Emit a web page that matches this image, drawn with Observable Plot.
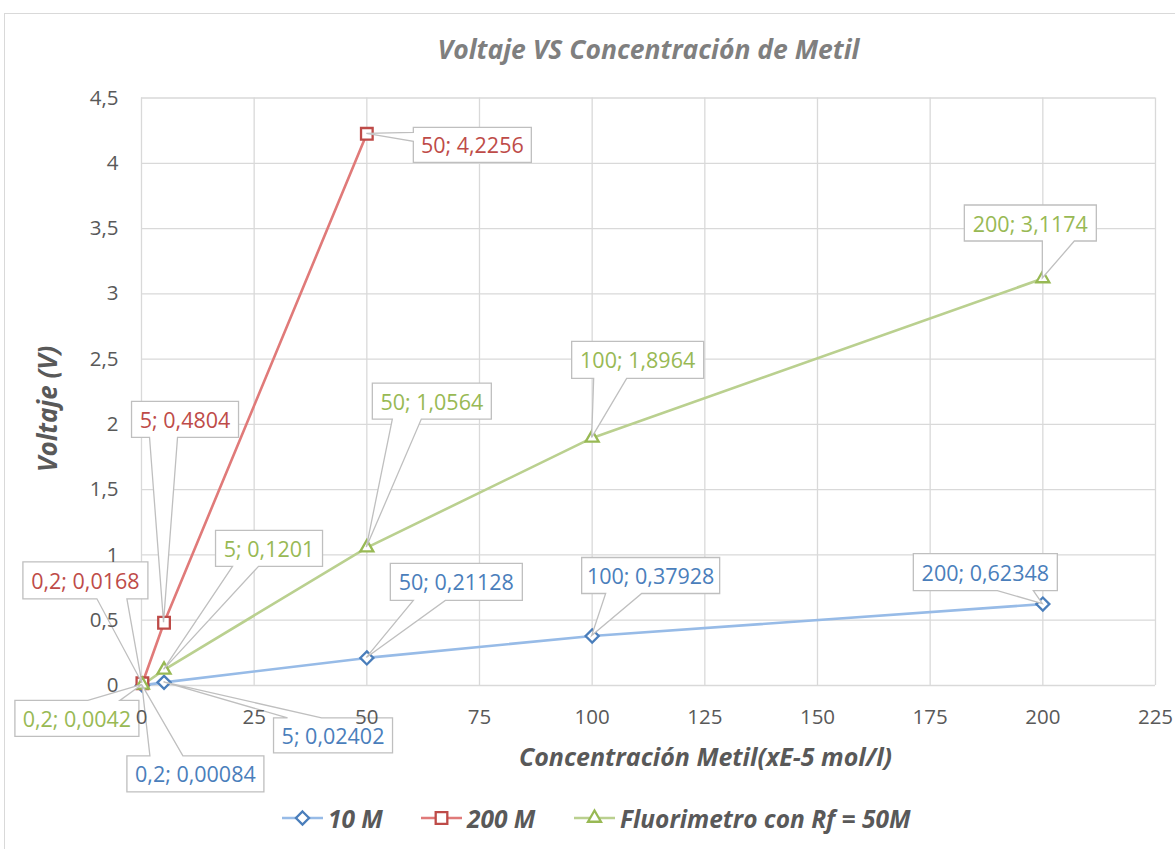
<!DOCTYPE html>
<html>
<head>
<meta charset="utf-8">
<script src="https://cdn.jsdelivr.net/npm/d3@7"></script>
<script src="https://cdn.jsdelivr.net/npm/@observablehq/plot@0.6"></script>
<style>
  body { margin: 0; background: #fff; }
  #wrap { position: relative; width: 1175px; height: 849px; overflow: hidden; background: #fff; }
  #frame { position: absolute; left: 4px; top: 13px; width: 1200px; height: 900px; border: 1px solid #d9d9d9; }
  #chart { position: absolute; left: 0; top: 0; }
  #legend { position: absolute; left: 0; top: 803px; width: 1175px; height: 30px;
            font-family: "Open Sans", Lato, sans-serif; font-weight: bold; font-style: italic;
            font-size: 24.5px; color: #595959; white-space: nowrap; }
  #legend .item { position: absolute; top: 0; display: flex; align-items: center; height: 30px; }
  #legend svg { display: block; margin-right: 5px; }
</style>
</head>
<body>
<div id="wrap">
  <div id="frame"></div>
  <div id="chart"></div>
  <div id="legend"></div>
</div>
<script>
// ---- data ----
const seriesNames = ["10 M", "200 M", "Fluorimetro con Rf = 50M"];
const conc10 = [0.2, 5, 50, 100, 200];
const volt10 = [0.00084, 0.02402, 0.21128, 0.37928, 0.62348];
const conc200 = [0.2, 5, 50];
const volt200 = [0.0168, 0.4804, 4.2256];
const concFl = [0.2, 5, 50, 100, 200];
const voltFl = [0.0042, 0.1201, 1.0564, 1.8964, 3.1174];
const xTicks = [0, 25, 50, 75, 100, 125, 150, 175, 200, 225];
const yTicks = [0, 0.5, 1, 1.5, 2, 2.5, 3, 3.5, 4, 4.5];
const titleText = "Voltaje VS Concentración de Metil";
const xLabel = "Concentración Metil(xE-5 mol/l)";
const yLabel = "Voltaje (V)";

// ---- styles ----
const lineColors = ["#97bbe7", "#e07a79", "#bad08f"];
const markColors = ["#4a7ebb", "#be4b48", "#98b954"];
const symbols = ["diamond2", "square2", "triangle2"];
const symbolR = [5.9, 7.4, 6.2];
const legendLeft = [282, 421, 574];

// callout layout (pixel offsets from the data point): box [x0,y0,x1,y1], wedge side, wedge base [a1,a2]
const calloutLayout = [
  // 10 M
  [{box:[-15,71,122,107], side:"t", w:[8,41]},
   {box:[110,36,229,71], side:"t", w:[124,158]},
   {box:[24,-94,156,-57], side:"b", w:[47,79]},
   {box:[-10,-78,128,-42], side:"b", w:[14,50]},
   {box:[-129,-50,15,-13], side:"b", w:[-45,-9]}],
  // 200 M
  [{box:[-119,-121,6,-84], side:"b", w:[-45,-15]},
   {box:[-32,-221,75,-185], side:"b", w:[-14,14]},
   {box:[47,-6,165,29], side:"l", w:[-1,8]}],
  // Fluorimetro
  [{box:[-127,16,-3,52], side:"t", w:[-54,-22]},
   {box:[52,-139,159,-103], side:"b", w:[69,95]},
   {box:[6,-164,125,-128], side:"b", w:[26,55]},
   {box:[-20,-96,112,-59], side:"b", w:[2,35]},
   {box:[-78,-73,54,-37], side:"b", w:[0,32]}]
];

const fmt = v => String(v).replace(".", ",");
const seriesData = [
  conc10.map((x, i) => ({s: 0, x, y: volt10[i], i})),
  conc200.map((x, i) => ({s: 1, x, y: volt200[i], i})),
  concFl.map((x, i) => ({s: 2, x, y: voltFl[i], i}))
];

function calloutMark(index, scales, values, dimensions, context) {
  const g = d3.create("svg:g");
  for (const data of seriesData) {
    for (const d of data) {
      const L = calloutLayout[d.s][d.i];
      const px = scales.x(d.x), py = scales.y(d.y);
      const [bx0, by0, bx1, by1] = L.box;
      const x0 = px + bx0, y0 = py + by0, x1 = px + bx1, y1 = py + by1;
      let p;
      if (L.side === "b") {
        const a1 = px + L.w[0], a2 = px + L.w[1];
        p = `M${x0},${y0}H${x1}V${y1}H${a2}L${px},${py}L${a1},${y1}H${x0}Z`;
      } else if (L.side === "t") {
        const a1 = px + L.w[0], a2 = px + L.w[1];
        p = `M${x0},${y0}H${a1}L${px},${py}L${a2},${y0}H${x1}V${y1}H${x0}Z`;
      } else {
        const a1 = py + L.w[0], a2 = py + L.w[1];
        p = `M${x0},${y0}H${x1}V${y1}H${x0}V${a2}L${px},${py}L${x0},${a1}Z`;
      }
      g.append("path").attr("d", p).attr("fill", "white").attr("stroke", "#bfbfbf").attr("stroke-width", 1.3);
      g.append("text")
        .attr("x", (x0 + x1) / 2).attr("y", (y0 + y1) / 2)
        .attr("text-anchor", "middle").attr("dominant-baseline", "central")
        .attr("font-size", 21.5).attr("font-family", "'Open Sans', Lato, sans-serif")
        .attr("fill", markColors[d.s])
        .text(`${fmt(d.x)}; ${fmt(d.y)}`);
    }
  }
  return g.node();
}

const marks = [
  Plot.gridX(xTicks, {stroke: "#d9d9d9", strokeOpacity: 1, strokeWidth: 1.3}),
  Plot.gridY(yTicks, {stroke: "#d9d9d9", strokeOpacity: 1, strokeWidth: 1.3}),
];
seriesData.forEach((data, s) => {
  marks.push(Plot.line(data, {x: "x", y: "y", stroke: lineColors[s], strokeWidth: 2.6}));
});
seriesData.forEach((data, s) => {
  marks.push(Plot.dot(data, {x: "x", y: "y", symbol: () => symbols[s], r: symbolR[s], stroke: markColors[s], fill: "white", strokeWidth: 2.3}));
});
marks.push(calloutMark);
marks.push(Plot.axisX(xTicks, {label: null, tickSize: 0, tickPadding: 24, fontSize: 20.5, fontFamily: "'Open Sans', Lato, sans-serif", fill: "#595959", tickFormat: fmt}));
marks.push(Plot.axisY(yTicks, {label: null, tickSize: 0, tickPadding: 23, fontSize: 20.5, fontFamily: "'Open Sans', Lato, sans-serif", fill: "#595959", tickFormat: fmt}));
const titleFont = "'Open Sans', Lato, sans-serif";
marks.push(Plot.text([titleText], {frameAnchor: "top", dy: -47, lineAnchor: "middle", textAnchor: "middle", fontSize: 26.5, fontFamily: titleFont, fontWeight: "bold", fontStyle: "italic", fill: "#7f7f7f"}));
marks.push(Plot.text([xLabel], {frameAnchor: "bottom", dy: 72, dx: 57, lineAnchor: "middle", textAnchor: "middle", fontSize: 25, fontFamily: titleFont, fontWeight: "bold", fontStyle: "italic", fill: "#595959"}));
marks.push(Plot.text([yLabel], {frameAnchor: "left", dx: -93, dy: 17, lineAnchor: "middle", textAnchor: "middle", rotate: -90, fontSize: 26, fontFamily: titleFont, fontWeight: "bold", fontStyle: "italic", fill: "#595959"}));

const chart = Plot.plot({
  width: 1175,
  height: 849,
  marginLeft: 141,
  marginRight: 20,
  marginTop: 97.5,
  marginBottom: 164,
  style: {fontFamily: "'Open Sans', Lato, sans-serif", background: "transparent", overflow: "visible"},
  x: {domain: [0, 225], type: "linear", label: null, axis: null},
  y: {domain: [0, 4.5], type: "linear", label: null, axis: null},
  marks
});
document.getElementById("chart").appendChild(chart);

// ---- legend ----
const legend = d3.select("#legend");
seriesNames.forEach((name, s) => {
  const item = legend.append("div").attr("class", "item").style("left", legendLeft[s] + "px");
  const svg = item.append("svg").attr("width", 41).attr("height", 24);
  svg.append("line").attr("x1", 0).attr("x2", 41).attr("y1", 12).attr("y2", 12)
     .attr("stroke", lineColors[s]).attr("stroke-width", 2.6);
  svg.append("path").attr("transform", "translate(20.5,12)")
     .attr("d", d3.symbol(s === 0 ? d3.symbolDiamond2 : s === 1 ? d3.symbolSquare2 : d3.symbolTriangle2, Math.PI * symbolR[s] * symbolR[s])())
     .attr("fill", "white").attr("stroke", markColors[s]).attr("stroke-width", 2.3);
  item.append("span").text(name);
});
</script>
</body>
</html>
